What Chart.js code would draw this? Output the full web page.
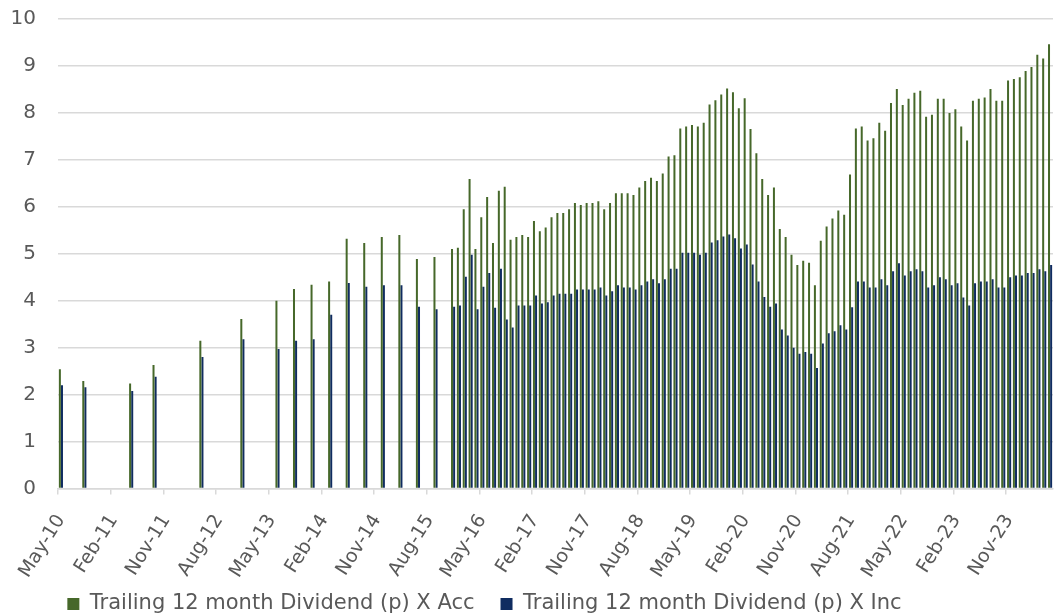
<!DOCTYPE html>
<html>
<head>
<meta charset="utf-8">
<script src="https://cdn.jsdelivr.net/npm/chart.js@4"></script>
<style>
  html, body { margin: 0; padding: 0; background: #fff; }
  #wrap { width: 1061px; height: 615px; position: relative; }
</style>
</head>
<body>
<div id="wrap"><canvas id="chart"></canvas></div>
<script>
// monthly categories, May-10 .. Jun-24
const monthNames = ['Jan', 'Feb', 'Mar', 'Apr', 'May', 'Jun', 'Jul', 'Aug', 'Sep', 'Oct', 'Nov', 'Dec'];
const firstMonth = { month: 4, year: 10 };
const monthCount = 170;

const tickLabels = ['May-10', 'Feb-11', 'Nov-11', 'Aug-12', 'May-13', 'Feb-14', 'Nov-14', 'Aug-15',
  'May-16', 'Feb-17', 'Nov-17', 'Aug-18', 'May-19', 'Feb-20', 'Nov-20', 'Aug-21', 'May-22', 'Feb-23', 'Nov-23'];

// Trailing 12 month dividend (p), X Acc
const accDividend = [
  2.54, null, null, null, 2.29, null, null, null,
  null, null, null, null, 2.24, null, null, null, 2.63, null, null, null,
  null, null, null, null, 3.15, null, null, null, null, null, null, 3.61,
  null, null, null, null, null, 4.00, null, null, 4.25, null, null, 4.34,
  null, null, 4.41, null, null, 5.32, null, null, 5.23, null, null, 5.36,
  null, null, 5.40, null, null, 4.89, null, null, 4.93, null, null, 5.10,
  5.13, 5.95, 6.59, 5.10, 5.78, 6.21, 5.23, 6.34, 6.43, 5.30, 5.36, 5.40,
  5.36, 5.70, 5.48, 5.56, 5.78, 5.87, 5.87, 5.95, 6.08, 6.04, 6.08, 6.08,
  6.12, 5.95, 6.08, 6.29, 6.29, 6.29, 6.25, 6.41, 6.55, 6.62, 6.55, 6.71,
  7.07, 7.10, 7.67, 7.71, 7.74, 7.71, 7.79, 8.18, 8.27, 8.39, 8.52, 8.44,
  8.10, 8.31, 7.66, 7.14, 6.59, 6.25, 6.41, 5.53, 5.36, 4.98, 4.76, 4.85,
  4.81, 4.33, 5.28, 5.58, 5.75, 5.92, 5.83, 6.69, 7.67, 7.71, 7.41, 7.46,
  7.79, 7.62, 8.21, 8.51, 8.17, 8.30, 8.43, 8.47, 7.92, 7.96, 8.30, 8.30,
  8.00, 8.08, 7.71, 7.41, 8.26, 8.30, 8.33, 8.51, 8.26, 8.26, 8.69, 8.72,
  8.76, 8.89, 8.98, 9.24, 9.16, 9.46
];

// Trailing 12 month dividend (p), X Inc
const incDividend = [
  2.20, null, null, null, 2.16, null, null, null,
  null, null, null, null, 2.08, null, null, null, 2.38, null, null, null,
  null, null, null, null, 2.80, null, null, null, null, null, null, 3.18,
  null, null, null, null, null, 2.97, null, null, 3.15, null, null, 3.18,
  null, null, 3.70, null, null, 4.38, null, null, 4.30, null, null, 4.33,
  null, null, 4.33, null, null, 3.87, null, null, 3.82, null, null, 3.87,
  3.90, 4.51, 4.98, 3.82, 4.30, 4.59, 3.85, 4.68, 3.60, 3.43, 3.90, 3.90,
  3.90, 4.11, 3.94, 3.97, 4.11, 4.15, 4.15, 4.15, 4.24, 4.24, 4.24, 4.24,
  4.28, 4.11, 4.20, 4.33, 4.28, 4.28, 4.24, 4.33, 4.41, 4.46, 4.37, 4.46,
  4.68, 4.68, 5.02, 5.02, 5.02, 4.98, 5.02, 5.24, 5.29, 5.37, 5.41, 5.33,
  5.11, 5.20, 4.77, 4.41, 4.08, 3.87, 3.94, 3.39, 3.26, 3.00, 2.87, 2.91,
  2.87, 2.57, 3.09, 3.31, 3.35, 3.48, 3.39, 3.86, 4.41, 4.41, 4.28, 4.28,
  4.46, 4.33, 4.63, 4.80, 4.54, 4.63, 4.67, 4.63, 4.28, 4.33, 4.50, 4.46,
  4.33, 4.37, 4.07, 3.90, 4.37, 4.41, 4.41, 4.46, 4.28, 4.28, 4.50, 4.54,
  4.54, 4.59, 4.59, 4.67, 4.63, 4.76
];

const labels = [];
for (let i = 0; i < monthCount; i++) {
  const m = (firstMonth.month + i) % 12;
  const y = firstMonth.year + Math.floor((firstMonth.month + i) / 12);
  labels.push(monthNames[m] + '-' + y);
}

const textColor = '#595959';
const gridColor = '#d9d9d9';
const fontFamily = "'DejaVu Sans', Verdana, sans-serif";
const legendFont = 21;
const legendPad = 26;

// put the legend where the original one sits (a bit left of centre, tight under the labels)
const legendShift = {
  id: 'legendShift',
  afterLayout(chart) {
    const lg = chart.legend;
    if (!lg) return;
    lg.left -= 47;
    lg.right -= 47;
    const h = lg.bottom - lg.top;
    lg.top = 604 - legendPad - legendFont / 2;
    lg.bottom = lg.top + h;
  }
};

new Chart(document.getElementById('chart'), {
  type: 'bar',
  data: {
    labels: labels,
    datasets: [
      {
        label: 'Trailing 12 month Dividend (p) X Acc',
        data: accDividend,
        backgroundColor: '#46682a',
        categoryPercentage: 0.72,
        barPercentage: 0.95
      },
      {
        label: 'Trailing 12 month Dividend (p) X Inc',
        data: incDividend,
        backgroundColor: '#102c60',
        categoryPercentage: 0.72,
        barPercentage: 0.95
      }
    ]
  },
  options: {
    responsive: true,
    maintainAspectRatio: false,
    animation: false,
    layout: { padding: { left: 10, right: 8, top: 19, bottom: -40 } },
    scales: {
      x: {
        afterFit: axis => { axis.paddingLeft = 0; axis.paddingRight = 0; },
        grid: {
          drawOnChartArea: false,
          drawTicks: true,
          tickLength: 6,
          color: ctx => (ctx.index % 9 === 0 ? gridColor : 'rgba(0,0,0,0)'),
          lineWidth: 1.5
        },
        border: { display: true, color: gridColor, width: 1.5 },
        ticks: {
          autoSkip: false,
          minRotation: 58,
          maxRotation: 58,
          padding: 16,
          color: textColor,
          font: { family: fontFamily, size: 19 },
          callback: function (value) {
            const l = this.getLabelForValue(value);
            return tickLabels.includes(l) ? l : '';
          }
        }
      },
      y: {
        min: 0,
        max: 10,
        afterFit: axis => { axis.width = 48; axis.paddingTop = 0; axis.paddingBottom = 0; },
        ticks: {
          stepSize: 1,
          padding: 22,
          color: textColor,
          font: { family: fontFamily, size: 20 }
        },
        grid: { color: gridColor, lineWidth: 1.5, drawTicks: false },
        border: { display: false }
      }
    },
    plugins: {
      legend: {
        position: 'bottom',
        labels: {
          boxWidth: 12,
          boxHeight: 12,
          padding: legendPad,
          color: textColor,
          font: { family: fontFamily, size: legendFont }
        }
      },
      tooltip: { enabled: false }
    }
  },
  plugins: [legendShift]
});
</script>
</body>
</html>
